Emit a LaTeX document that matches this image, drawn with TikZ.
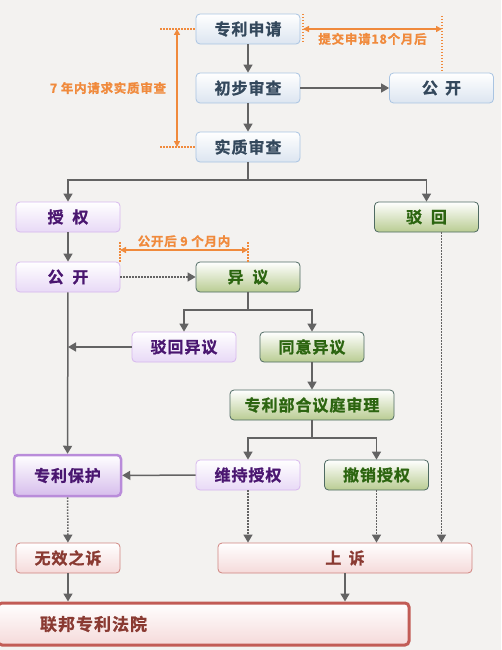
\documentclass[tikz,border=0pt]{standalone}
\usepackage{fontspec}
\setmainfont{Noto Sans CJK SC}[BoldFont={* Bold}, BoldFeatures={FakeBold=1.2}, LetterSpace=6]
\usepackage{xcolor}
\usetikzlibrary{arrows.meta,positioning}

\definecolor{bg}{HTML}{F3F2F0}
\definecolor{linegray}{HTML}{636363}
\definecolor{orange}{HTML}{F08A3C}
\definecolor{topline}{HTML}{A9C4E2}
\definecolor{topfill}{HTML}{DCE5F0}
\definecolor{toptext}{HTML}{34485C}
\definecolor{purpline}{HTML}{D7B8EE}
\definecolor{purpfill}{HTML}{E8D9F6}
\definecolor{purptext}{HTML}{4A1670}
\definecolor{protline}{HTML}{B98CDA}
\definecolor{protfill}{HTML}{D6BDEC}
\definecolor{greenline}{HTML}{4F6B63}
\definecolor{greenfill}{HTML}{B9CC92}
\definecolor{greentext}{HTML}{2C6510}
\definecolor{redline}{HTML}{D08580}
\definecolor{redfill}{HTML}{F5DADA}
\definecolor{redtext}{HTML}{8A3A32}
\definecolor{courtline}{HTML}{C25C56}

\begin{document}
\begin{tikzpicture}[x=1pt, y=-1pt, font=\bfseries\fontsize{16}{17}\selectfont,
        box/.style={rounded corners=4pt, minimum width=104pt, minimum height=30pt, inner sep=0pt, line width=0.8pt},
        topbox/.style={box, draw=topline, top color=white, bottom color=topfill, text=toptext},
        purplebox/.style={box, draw=purpline, top color=white, bottom color=purpfill, text=purptext},
        greenbox/.style={box, draw=greenline, top color=white, bottom color=greenfill, text=greentext},
        redbox/.style={box, draw=redline, top color=white, bottom color=redfill, text=redtext},
        arr/.style={-{Triangle[width=9pt,length=8pt]}, linegray, line width=1.5pt},
        dotarr/.style={arr, dash pattern=on 1.5pt off 1.5pt},
        oarr/.style={{Triangle[width=6pt,length=6pt]}-{Triangle[width=6pt,length=6pt]}, orange, line width=1.8pt},
        odot/.style={orange, line width=1.5pt, dash pattern=on 1.5pt off 1.5pt},
        olabel/.style={text=orange, font=\bfseries\fontsize{12.5}{13}\selectfont, inner sep=1pt}]
    \fill[bg] (0,0) rectangle (501,650);
    \useasboundingbox (0,0) rectangle (501,650);

    % examination
    \node[topbox] (apply) at (248,29) {专利申请};
    \node[topbox] (prelim) at (248,88) {初步审查};
    \node[topbox] (exam) at (248,147) {实质审查};
    \node[topbox] (pubA) at (441.5,88) {公\hspace{0.45em}开};
    \draw[arr] (apply) -- (prelim);
    \draw[arr] (prelim) -- (exam);
    \draw[arr] (prelim) -- (pubA);

    \draw[odot] (160,29) -- (apply.west);
    \draw[odot] (160,147) -- (exam.west);
    \draw[oarr] (177,29) -- node[olabel, left=9pt] {7 年内请求实质审查} (177,147);
    \draw[odot] (303,14) -- (303,44);
    \draw[odot] (442,16) -- (442,73);
    \draw[oarr] (303,29) -- node[olabel, below=2pt] {提交申请18个月后} (442,29);

    % grant or reject
    \node[purplebox] (grant) at (68,217) {授\hspace{0.55em}权};
    \node[greenbox] (reject) at (426.5,217) {驳\hspace{0.55em}回};
    \coordinate (split1) at (248,180);
    \draw[arr] (exam) -- (split1) -| (grant);
    \draw[arr] (split1) -| (reject);

    \node[purplebox] (pubB) at (68,277) {公\hspace{0.55em}开};
    \node[greenbox] (oppose) at (248,277) {异\hspace{0.55em}议};
    \draw[arr] (grant) -- (pubB);
    \draw[dotarr] (pubB) -- (oppose);
    \draw[odot] (120,242) -- (120,262);
    \draw[odot] (248,242) -- (248,262);
    \draw[oarr] (120,250) -- node[olabel, above=1pt] {公开后 9 个月内} (248,250);

    % opposition
    \node[purplebox] (rejopp) at (184,347) {驳回异议};
    \node[greenbox] (agree) at (312,347) {同意异议};
    \coordinate (split2) at (248,310);
    \draw[arr] (oppose) -- (split2) -| (rejopp);
    \draw[arr] (split2) -| (agree);
    \draw[arr] (rejopp) -- (rejopp -| grant);

    \node[greenbox, minimum width=164pt] (board) at (312,405) {专利部合议庭审理};
    \draw[arr] (agree) -- (board);
    \node[purplebox] (keep) at (248,475) {维持授权};
    \node[greenbox] (revoke) at (376.5,475) {撤销授权};
    \coordinate (split3) at (312,438);
    \draw[arr] (board) -- (split3) -| (keep);
    \draw[arr] (split3) -| (revoke);

    \node[purplebox, minimum width=107pt, minimum height=41pt, line width=2.5pt, draw=protline, bottom color=protfill] (protect) at (67.5,475.5) {专利保护};
    \draw[arr] (pubB) -- (protect);
    \draw[arr] (keep) -- (protect);

    % courts
    \node[redbox] (nullity) at (68,558) {无效之诉};
    \node[redbox, minimum width=254pt] (appeal) at (345,558) {上\hspace{0.45em}诉};
    \draw[dotarr] (protect) -- (nullity);
    \draw[dotarr] (keep) -- (keep |- appeal.north);
    \draw[dotarr] (revoke) -- (revoke |- appeal.north);
    \draw[dotarr] ([xshift=15pt]reject.south) -- ([xshift=15pt]reject.south |- appeal.north);

    \node[redbox, minimum height=42pt, text width=327pt, align=left, inner xsep=42pt, line width=3pt, draw=courtline, font=\bfseries\fontsize{17}{18}\selectfont] (court) at (203.5,624) {联邦专利法院};
    \draw[arr] (nullity) -- (nullity |- court.north);
    \draw[arr] (appeal) -- (appeal |- court.north);
\end{tikzpicture}
\end{document}
